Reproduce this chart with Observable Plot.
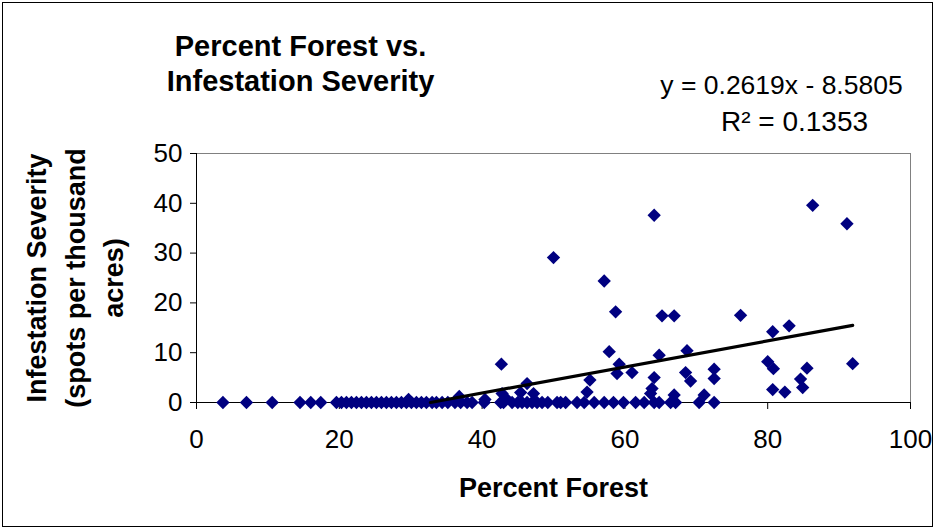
<!DOCTYPE html>
<html>
<head>
<meta charset="utf-8">
<script src="https://cdn.jsdelivr.net/npm/d3@7"></script>
<script src="https://cdn.jsdelivr.net/npm/@observablehq/plot@0.6"></script>
<style>
  html, body { margin: 0; padding: 0; background: #fff; }
  #chart svg { display: block; outline: 1px solid #000; outline-offset: -3px; }
</style>
</head>
<body>
<div id="chart"></div>
<script>
// ---- data ----
const percentForest = [
  3.7, 7.0, 10.6, 14.5, 16.0, 17.4, 19.6, 20.3, 21.0, 21.7, 22.4, 23.1, 23.8, 24.5, 25.2,
  25.9, 26.6, 27.3, 28.0, 28.7, 29.4, 30.1, 30.8, 31.5, 32.2, 33.0, 33.6, 34.4, 35.2, 36.2,
  37.0, 37.9, 38.6, 40.3, 42.6, 43.0, 44.2, 45.0, 45.6, 46.3, 47.0, 47.7, 48.4, 49.2, 50.5,
  51.0, 51.7, 53.3, 54.3, 55.7, 57.1, 58.4, 59.8, 61.5, 62.7, 64.1, 64.8, 66.4, 67.1, 70.4,
  72.5,
  29.7, 36.8, 40.4, 42.7, 42.8, 43.3, 45.4, 46.3, 47.2, 50.0, 54.7, 55.1, 57.1, 57.8, 58.7,
  58.9, 59.2, 61.0, 63.6, 63.8, 64.1, 64.1, 64.8, 65.2, 66.9, 66.9, 68.5, 68.7, 69.2, 71.1,
  72.5, 72.5, 76.2, 80.0, 80.7, 80.8, 80.7, 82.4, 83.0, 84.6, 84.9, 85.5, 86.3, 91.1, 91.9
];
const severity = [
  0, 0, 0, 0, 0, 0, 0, 0, 0, 0, 0, 0, 0, 0, 0,
  0, 0, 0, 0, 0, 0, 0, 0, 0, 0, 0, 0, 0, 0, 0,
  0, 0, 0, 0, 0, 0, 0, 0, 0, 0, 0, 0, 0, 0, 0,
  0, 0, 0, 0, 0, 0, 0, 0, 0, 0, 0, 0, 0, 0, 0,
  0,
  0.6, 1.2, 0.6, 7.7, 1.8, 0.9, 2.0, 3.8, 1.8, 29.1, 2.1, 4.5, 24.4, 10.2, 18.2,
  5.8, 7.7, 6.0, 1.8, 2.8, 5.0, 37.6, 9.5, 17.4, 17.4, 1.5, 6.0, 10.4, 4.3, 1.5,
  6.7, 4.8, 17.5, 8.2, 14.2, 6.8, 2.6, 2.1, 15.4, 4.7, 3.0, 6.9, 39.6, 35.9, 7.8
];
const xTicks = [0, 20, 40, 60, 80, 100];
const yTicks = [0, 10, 20, 30, 40, 50];
const slope = 0.2619;
const intercept = -8.5805;
const rSquared = 0.1353;
const titleLines = ["Percent Forest vs.", "Infestation Severity"];
const xTitle = "Percent Forest";
const yTitleLines = ["Infestation Severity", "(spots per thousand", "acres)"];

// ---- derived tables ----
const points = percentForest.map((x, i) => ({x, y: severity[i]}));
const xMax = d3.max(percentForest);
const xStart = -intercept / slope;
const trend = [xStart, xMax].map(x => ({x, y: slope * x + intercept}));
const eqLine1 = `y = ${slope}x - ${Math.abs(intercept)}`;
const eqLine2 = `R\u00B2 = ${rSquared}`;

const font = "'Liberation Sans', Arial, sans-serif";

const chart = Plot.plot({
  width: 935,
  height: 529,
  marginLeft: 196,
  marginRight: 25,
  marginTop: 153,
  marginBottom: 127,
  style: {fontFamily: font, fontSize: "26px", color: "#000", background: "#fff", overflow: "visible"},
  x: {domain: [0, 100]},
  y: {domain: [0, 50]},
  marks: [
    Plot.frame({stroke: "#808080", strokeWidth: 1}),
    Plot.axisX({ticks: xTicks, tickSize: 7, tickPadding: 20, fontSize: 26, label: null, stroke: "#000"}),
    Plot.axisY({ticks: yTicks, tickSize: 6, tickPadding: 8, fontSize: 26, label: null, stroke: "#000"}),
    Plot.ruleX([0], {stroke: "#000"}),
    Plot.ruleY([0], {stroke: "#000"}),
    Plot.dot(points, {x: "x", y: "y", symbol: "diamond2", r: 6, fill: "#000080", stroke: null}),
    Plot.line(trend, {x: "x", y: "y", stroke: "#000", strokeWidth: 3.2}),
    // chart title
    Plot.text([titleLines.join("\n")], {
      frameAnchor: "top-left", dx: 104, dy: -91, textAnchor: "middle", lineAnchor: "middle",
      fontSize: 29, fontWeight: "bold", lineHeight: 1.2, fill: "#000"
    }),
    // trendline equation
    Plot.text([eqLine1], {
      frameAnchor: "top-left", dx: 585, dy: -68, textAnchor: "middle", lineAnchor: "middle",
      fontSize: 26.5, fill: "#000"
    }),
    Plot.text([eqLine2], {
      frameAnchor: "top-left", dx: 598, dy: -31, textAnchor: "middle", lineAnchor: "middle",
      fontSize: 28, fill: "#000"
    }),
    // x axis title
    Plot.text([xTitle], {
      frameAnchor: "bottom", dy: 86, textAnchor: "middle", lineAnchor: "middle",
      fontSize: 27, fontWeight: "bold", fill: "#000"
    }),
    // y axis title
    Plot.text([yTitleLines.join("\n")], {
      frameAnchor: "left", dx: -124, rotate: -90, textAnchor: "middle", lineAnchor: "middle",
      fontSize: 27, fontWeight: "bold", lineHeight: 1.42, fill: "#000"
    })
  ]
});

document.getElementById("chart").appendChild(chart);
</script>
</body>
</html>
